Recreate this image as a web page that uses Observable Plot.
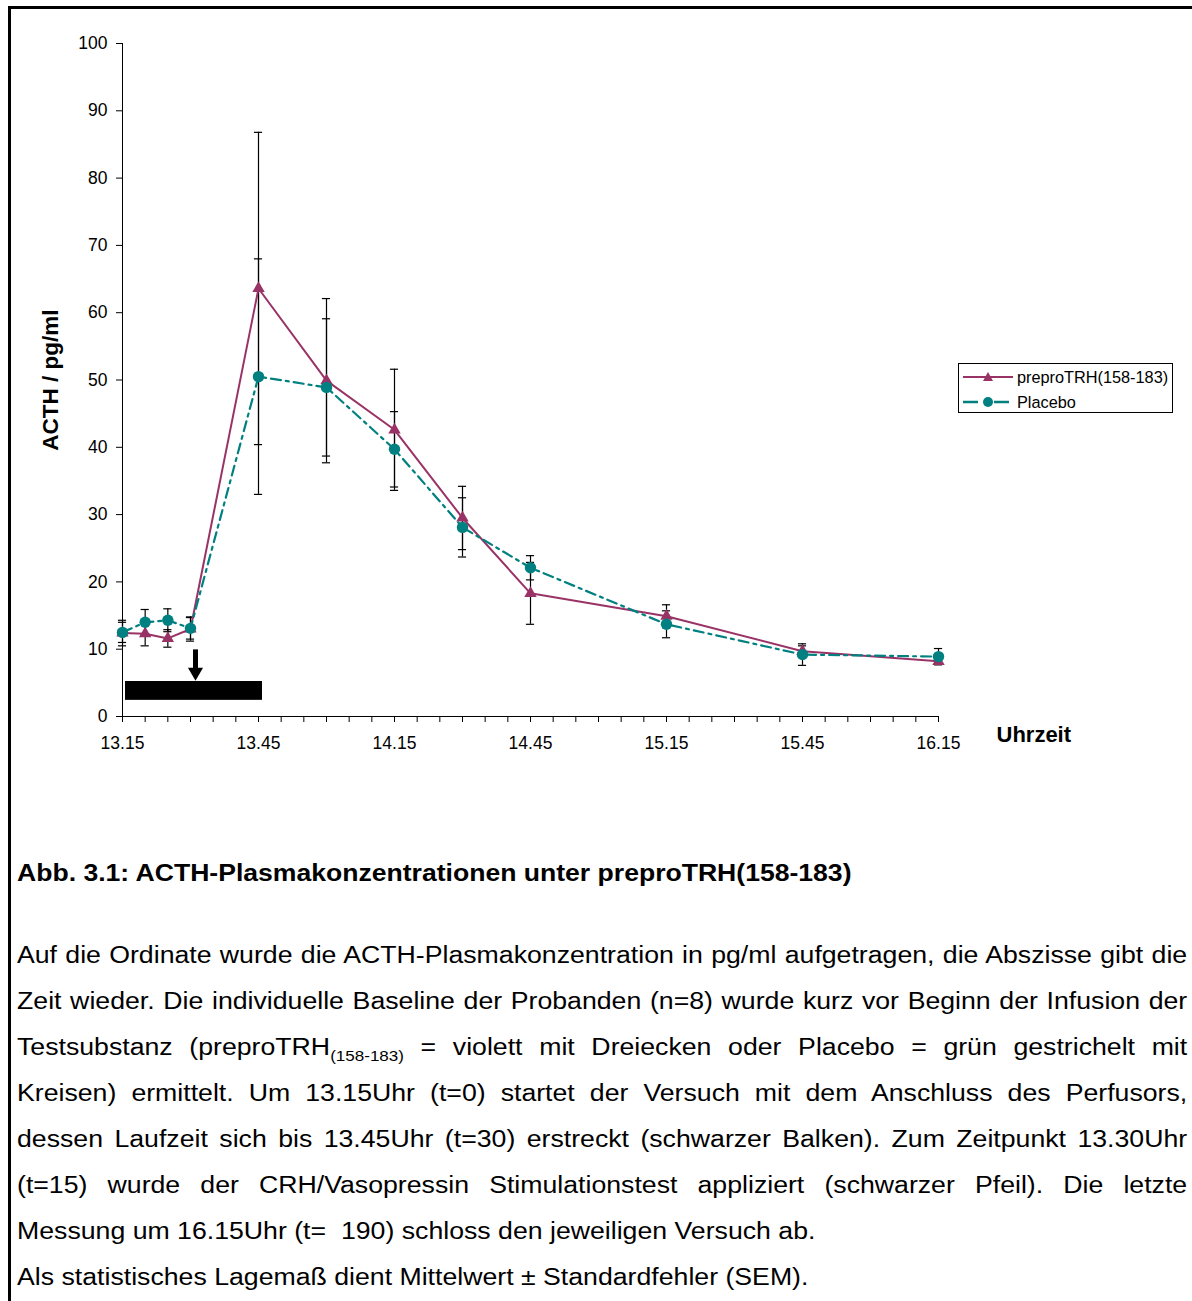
<!DOCTYPE html>
<html>
<head>
<meta charset="utf-8">
<script src="https://cdn.jsdelivr.net/npm/d3@7"></script>
<script src="https://cdn.jsdelivr.net/npm/@observablehq/plot@0.6"></script>
<style>
  html, body { margin: 0; padding: 0; background: #fff; }
  body { width: 1192px; height: 1301px; position: relative; overflow: hidden; font-family: "Liberation Sans", Arial, sans-serif; color: #000; }
  #frame { position: absolute; left: 8px; top: 6px; width: 1300px; height: 1400px; border-top: 3px solid #000; border-left: 3px solid #000; }
  #chart { position: absolute; left: 0; top: 0; }
  #legend { position: absolute; left: 958px; top: 363px; width: 213px; height: 48px; border: 1px solid #000; background: #fff; font-size: 16.3px; }
  #legend .item { position: absolute; left: 4px; height: 20px; display: flex; align-items: center; }
  #legend .item span { margin-left: 4px; }
  #title { position: absolute; left: 17px; top: 858px; font-weight: bold; font-size: 23px; line-height: 30px; white-space: nowrap; transform: scaleX(1.155); transform-origin: 0 0; }
  #para { position: absolute; left: 17px; top: 932px; width: 1031px; font-size: 23.5px; line-height: 46px; transform: scaleX(1.135); transform-origin: 0 0; }
  #para .j { text-align: justify; text-align-last: justify; white-space: nowrap; }
  #para .l { text-align: left; white-space: nowrap; }
  sub { font-size: 15px; vertical-align: -6px; line-height: 0; }
</style>
</head>
<body>
<div id="frame"></div>
<div id="chart"></div>
<div id="legend">
  <div class="item" style="top:3px">
    <svg width="50" height="14"><line x1="0" y1="7" x2="50" y2="7" stroke="#993366" stroke-width="2"/><path d="M25,2 L30,11 L20,11 Z" fill="#993366"/></svg>
    <span>preproTRH(158-183)</span>
  </div>
  <div class="item" style="top:28px">
    <svg width="50" height="14"><line x1="0" y1="7" x2="50" y2="7" stroke="#008080" stroke-width="2.5" stroke-dasharray="15,6,4,6"/><circle cx="25" cy="7" r="5" fill="#008080"/></svg>
    <span>Placebo</span>
  </div>
</div>
<div id="title">Abb. 3.1: ACTH-Plasmakonzentrationen unter preproTRH(158-183)</div>
<div id="para">
  <div class="j">Auf die Ordinate wurde die ACTH-Plasmakonzentration in pg/ml aufgetragen, die Abszisse gibt die</div>
  <div class="j">Zeit wieder. Die individuelle Baseline der Probanden (n=8) wurde kurz vor Beginn der Infusion der</div>
  <div class="j">Testsubstanz (preproTRH<sub>(158-183)</sub> = violett mit Dreiecken oder Placebo = grün gestrichelt mit</div>
  <div class="j">Kreisen) ermittelt. Um 13.15Uhr (t=0) startet der Versuch mit dem Anschluss des Perfusors,</div>
  <div class="j">dessen Laufzeit sich bis 13.45Uhr (t=30) erstreckt (schwarzer Balken). Zum Zeitpunkt 13.30Uhr</div>
  <div class="j">(t=15) wurde der CRH/Vasopressin Stimulationstest appliziert (schwarzer Pfeil). Die letzte</div>
  <div class="l">Messung um 16.15Uhr (t=&nbsp; 190) schloss den jeweiligen Versuch ab.</div>
  <div class="l">Als statistisches Lagemaß dient Mittelwert ± Standardfehler (SEM).</div>
</div>
<script>
// Minutes after 13.15
const times = [0, 5, 10, 15, 30, 45, 60, 75, 90, 120, 150, 180];
const preproMean = [12.4, 12.3, 11.6, 13.0, 63.6, 49.9, 42.6, 29.5, 18.3, 14.9, 9.7, 8.2];
const preproSem  = [1.9, 1.8, 1.3, 1.8, 23.2, 12.2, 9.0, 4.7, 4.6, 1.7, 0.8, 0.5];
const placeboMean = [12.5, 14.0, 14.3, 13.1, 50.5, 48.9, 39.7, 28.1, 22.1, 13.7, 9.2, 8.9];
const placeboSem  = [1.5, 1.9, 1.7, 1.6, 17.5, 10.2, 5.6, 4.4, 1.8, 2.0, 1.6, 1.2];
const seriesNames = ["preproTRH(158-183)", "Placebo"];
const tickTimes = [0, 30, 60, 90, 120, 150, 180];
const tickLabels = ["13.15", "13.45", "14.15", "14.45", "15.15", "15.45", "16.15"];
const infusionPeriod = [0, 30];   // perfusor running (black bar)
const stimulationTime = [15];     // CRH/Vasopressin test (arrow)

const pre = times.map((t, i) => ({t, series: seriesNames[0], mean: preproMean[i], sem: preproSem[i]}));
const plc = times.map((t, i) => ({t, series: seriesNames[1], mean: placeboMean[i], sem: placeboSem[i]}));
const all = pre.concat(plc);
const labelOf = new Map(tickTimes.map((t, i) => [t, tickLabels[i]]));

const chart = Plot.plot({
  width: 1192,
  height: 790,
  marginLeft: 122,
  marginRight: 254,
  marginTop: 43,
  marginBottom: 74,
  style: {fontFamily: "Liberation Sans, Arial, sans-serif", background: "transparent"},
  x: {domain: [0, 180]},
  y: {domain: [0, 100]},
  marks: [
    Plot.axisX({ticks: d3.range(0, 181, 5), tickSize: 6, tickPadding: 14, fontSize: 17.5,
      tickFormat: d => labelOf.get(d) ?? "", label: null, stroke: "#000", strokeOpacity: 1}),
    Plot.axisY({ticks: d3.range(0, 101, 10), tickSize: 6, tickPadding: 9, fontSize: 17.5,
      label: null, stroke: "#000", strokeOpacity: 1}),
    Plot.ruleY([0], {stroke: "#000"}),
    Plot.ruleX([0], {stroke: "#000"}),
    Plot.text(["ACTH / pg/ml"], {frameAnchor: "left", textAnchor: "middle", dx: -72, rotate: -90, fontWeight: "bold", fontSize: 22.5}),
    Plot.text(["Uhrzeit"], {frameAnchor: "bottom-right", dx: 58, dy: 25, textAnchor: "start", fontWeight: "bold", fontSize: 22}),
    // infusion bar
    Plot.rect([infusionPeriod], {x1: d => d[0], x2: d => d[1], y1: 2.4, y2: 5.2, fill: "#000", insetLeft: 3, insetRight: -4}),
    // stimulation arrow
    Plot.ruleX(stimulationTime, {x: d => d, y1: 9.9, y2: 7.0, stroke: "#000", strokeWidth: 5, dx: 5}),
    Plot.dot(stimulationTime, {x: d => d, y: 6.6, symbol: "triangle", rotate: 180, r: 5.6, fill: "#000", dx: 5}),
    // error bars
    Plot.ruleX(all, {x: "t", y1: d => d.mean - d.sem, y2: d => d.mean + d.sem, stroke: "#000", strokeWidth: 1.2}),
    Plot.ruleY(all, {y: d => d.mean + d.sem, x1: d => d.t - 0.9, x2: d => d.t + 0.9, stroke: "#000", strokeWidth: 1.2}),
    Plot.ruleY(all, {y: d => d.mean - d.sem, x1: d => d.t - 0.9, x2: d => d.t + 0.9, stroke: "#000", strokeWidth: 1.2}),
    // series
    Plot.line(pre, {x: "t", y: "mean", stroke: "#993366", strokeWidth: 2}),
    Plot.dot(pre, {x: "t", y: "mean", symbol: "triangle", r: 4.6, fill: "#993366", stroke: "none"}),
    Plot.line(plc, {x: "t", y: "mean", stroke: "#008080", strokeWidth: 2.2, strokeDasharray: "10,5,3,5"}),
    Plot.dot(plc, {x: "t", y: "mean", symbol: "circle", r: 5.7, fill: "#008080", stroke: "none"})
  ]
});
document.getElementById("chart").appendChild(chart);
</script>
</body>
</html>
